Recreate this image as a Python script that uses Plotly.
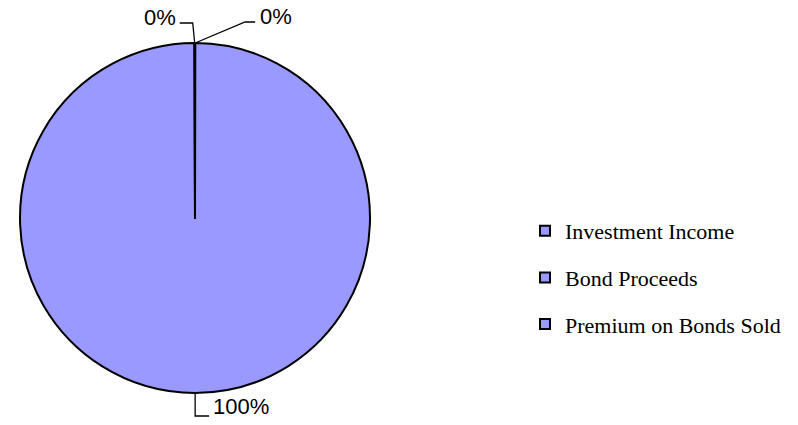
import math
import plotly.graph_objects as go

# Source of funds (dollars)
categories = ["Investment Income", "Bond Proceeds", "Premium on Bonds Sold"]
amounts = [1200, 4500000, 2400]

W, H = 798, 425
FILL = "#9999FF"
PIE_LEFT, PIE_TOP, PIE_SIZE = 20, 43, 350  # pixel box of the pie

# leader-line layout per slice: elbow offset, line end offset, text offset, text anchor
leader_style = {
    "Investment Income": ((50, -21), (60, -21), (63, -27), "left"),
    "Bond Proceeds": ((0, 23), (14, 23), (16, 14), "left"),
    "Premium on Bonds Sold": ((-2, -20), (-15, -20), (-17, -26), "right"),
}


def px(x):
    return x / W


def py(y):
    return 1 - y / H


fig = go.Figure()

fig.add_trace(go.Pie(
    labels=categories,
    values=amounts,
    sort=False,
    direction="clockwise",
    rotation=0,
    marker=dict(colors=[FILL] * len(categories), line=dict(color="black", width=2)),
    textinfo="none",
    hoverinfo="label+value+percent",
    showlegend=False,
    domain=dict(x=[px(PIE_LEFT), px(PIE_LEFT + PIE_SIZE)],
                y=[py(PIE_TOP + PIE_SIZE), py(PIE_TOP)]),
))

# percentage labels with leader lines, placed from each slice's mid angle
total = sum(amounts)
cx = PIE_LEFT + PIE_SIZE / 2
cy = PIE_TOP + PIE_SIZE / 2
R = PIE_SIZE / 2
cum = 0.0
shapes, annotations = [], []
for name, val in zip(categories, amounts):
    frac = val / total
    mid = (cum + frac / 2) * 2 * math.pi
    cum += frac
    ax = cx + R * math.sin(mid)
    ay = cy - R * math.cos(mid)
    (ex, ey), (lx, ly), (tx, ty), anchor = leader_style[name]
    path = "M {} {} L {} {} L {} {}".format(
        px(ax), py(ay), px(ax + ex), py(ay + ey), px(ax + lx), py(ay + ly))
    shapes.append(dict(type="path", xref="paper", yref="paper", path=path,
                       line=dict(color="black", width=1.3)))
    annotations.append(dict(
        x=px(ax + tx), y=py(ay + ty), xref="paper", yref="paper",
        text="{:.0f}%".format(frac * 100), showarrow=False,
        xanchor=anchor, yanchor="middle",
        font=dict(family="Liberation Sans, Arial", size=22, color="black"),
    ))

# legend entries
for i, name in enumerate(categories):
    fig.add_trace(go.Scatter(
        x=[None], y=[None], mode="markers", name=name,
        legendgroup="g{}".format(i),
        marker=dict(symbol="square", size=10, color=FILL,
                    line=dict(color="black", width=2)),
    ))

fig.update_layout(
    width=W, height=H,
    margin=dict(l=0, r=0, t=0, b=0),
    paper_bgcolor="white", plot_bgcolor="white",
    xaxis=dict(visible=False), yaxis=dict(visible=False),
    shapes=shapes, annotations=annotations,
    legend=dict(
        x=px(525), y=py(210), xanchor="left", yanchor="top",
        font=dict(family="Liberation Serif, Times New Roman", size=22, color="black"),
        tracegroupgap=15, bgcolor="rgba(0,0,0,0)",
    ),
)

fig.write_html("out.html")
